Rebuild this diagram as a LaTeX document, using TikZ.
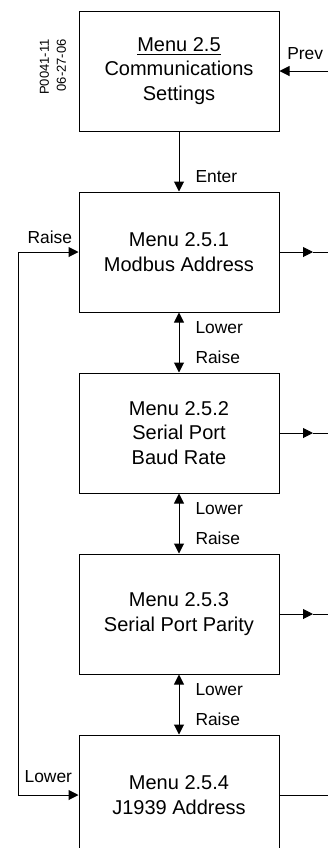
\documentclass[tikz,border=0pt]{standalone}
\usepackage{fontspec}
\setmainfont{Liberation Sans}
\usetikzlibrary{positioning,arrows.meta}

\begin{document}
\begin{tikzpicture}[x=0.5pt,y=-0.5pt,line width=0.5pt,
    menubox/.style={draw,minimum width=100pt,minimum height=60pt,inner sep=0pt,
        align=center,font=\fontsize{10}{12.3}\selectfont},
    lbl/.style={inner sep=0pt,font=\fontsize{8.7}{10}\selectfont},
    arr/.style={-{Triangle[length=5pt,width=5pt]}},
    arrs/.style={{Triangle[length=5pt,width=5pt]}-{Triangle[length=5pt,width=5pt]}}]
    \useasboundingbox (0,0) rectangle (328,848);

    % Drawing number
    \node[rotate=90,align=right,inner sep=0pt,font=\fontsize{6.5}{8.5}\selectfont] (dwg) at (53,67) {P0041-11\\06-27-06};

    % Menu boxes
    \node[menubox] (comm) at (179,71) {\underline{Menu 2.5}\\Communications\\Settings};
    \node[menubox,below=30pt of comm] (modbus) {Menu 2.5.1\\Modbus Address};
    \node[menubox,below=30pt of modbus] (baud) {Menu 2.5.2\\Serial Port\\Baud Rate};
    \node[menubox,below=30pt of baud] (parity) {Menu 2.5.3\\Serial Port Parity};
    \node[menubox,below=30pt of parity] (jaddr) {Menu 2.5.4\\J1939 Address};

    % Free ends
    \coordinate (edge) at (328,0);
    \coordinate (tip) at (313,0);
    \coordinate (loop) at (18,0);

    % Entry from the right
    \draw[arr] (comm.east -| edge) -- (comm.east) node[lbl,pos=.47,anchor=base,yshift=6pt] {Prev};
    \draw[arr] (comm) -- (modbus) node[lbl,pos=.75,anchor=west,xshift=8pt] {Enter};

    % Up and down between the menus
    \draw[arrs] (modbus) -- (baud) node[lbl,pos=.25,anchor=west,xshift=8pt] {Lower}
        node[lbl,pos=.74,anchor=west,xshift=8pt] {Raise};
    \draw[arrs] (baud) -- (parity) node[lbl,pos=.25,anchor=west,xshift=8pt] {Lower}
        node[lbl,pos=.74,anchor=west,xshift=8pt] {Raise};
    \draw[arrs] (parity) -- (jaddr) node[lbl,pos=.25,anchor=west,xshift=8pt] {Lower}
        node[lbl,pos=.74,anchor=west,xshift=8pt] {Raise};

    % Wrap around on the left
    \draw[arrs] (jaddr.west) -- (jaddr.west -| loop) |- (modbus.west);
    \node[lbl,anchor=base east] (raisewrap) at ([xshift=-3pt,yshift=4.5pt]modbus.west) {Raise};
    \node[lbl,anchor=base east] (lowerwrap) at ([xshift=-3pt,yshift=6.5pt]jaddr.west) {Lower};

    % Exits to the right
    \foreach \m in {modbus,baud,parity} {
        \draw[arr] (\m.east) -- (\m.east -| tip);
        \draw (\m.east -| tip) -- (\m.east -| edge);
    }
    \draw (jaddr.east) -- (jaddr.east -| edge);
\end{tikzpicture}
\end{document}
